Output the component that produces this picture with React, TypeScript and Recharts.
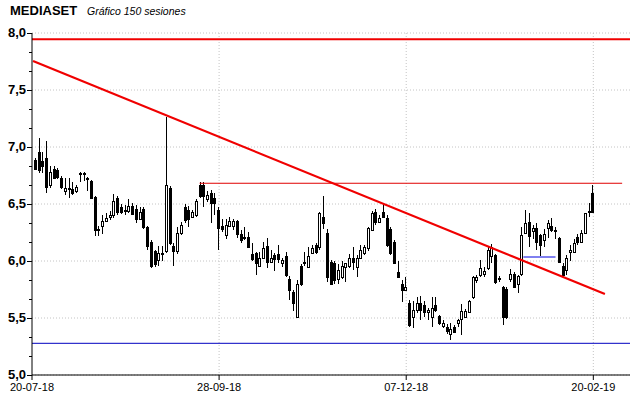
import React from 'react';
import { ComposedChart, Bar, XAxis, YAxis, CartesianGrid, ReferenceLine } from 'recharts';

// 150 sesiones (apertura / maximo / minimo / cierre)
const OPEN = [
  6.89, 6.96, 6.88, 6.90, 6.67, 6.81, 6.80, 6.73, 6.61, 6.64, 6.63, 6.61, 6.76, 6.77, 6.73, 6.70, 6.56, 6.27, 6.31, 6.35,
  6.39, 6.40, 6.55, 6.47, 6.44, 6.44, 6.48, 6.46, 6.37, 6.46, 6.30, 6.17, 6.09, 6.01, 6.06, 6.09, 6.64, 6.13, 6.09, 6.25,
  6.47, 6.45, 6.39, 6.40, 6.67, 6.67, 6.54, 6.60, 6.55, 6.45, 6.31, 6.23, 6.31, 6.31, 6.35, 6.24, 6.21, 6.21, 6.06, 6.07,
  5.96, 6.03, 6.13, 5.99, 6.05, 6.06, 5.98, 6.04, 5.84, 5.73, 5.51, 5.96, 5.99, 5.95, 6.07, 6.14, 6.12, 6.39, 6.25, 5.99,
  5.98, 5.84, 5.86, 5.95, 5.96, 6.03, 5.95, 6.03, 6.07, 6.11, 6.27, 6.43, 6.34, 6.43, 6.38, 6.28, 6.17, 5.90, 5.80, 5.75,
  5.63, 5.51, 5.57, 5.63, 5.61, 5.55, 5.51, 5.61, 5.52, 5.43, 5.42, 5.36, 5.42, 5.46, 5.49, 5.51, 5.55, 5.68, 5.83, 5.88,
  5.89, 5.94, 6.04, 6.05, 5.85, 5.77, 5.75, 5.84, 5.89, 5.80, 5.89, 6.25, 6.34, 6.26, 6.29, 6.23, 6.18, 6.29, 6.31, 6.27,
  6.20, 5.96, 5.92, 6.08, 6.08, 6.21, 6.17, 6.25, 6.43, 6.60,
];
const HIGH = [
  6.90, 7.08, 6.96, 7.05, 6.83, 6.83, 6.82, 6.75, 6.73, 6.73, 6.69, 6.67, 6.78, 6.78, 6.74, 6.71, 6.57, 6.31, 6.40, 6.42,
  6.44, 6.59, 6.57, 6.50, 6.49, 6.54, 6.51, 6.49, 6.47, 6.47, 6.31, 6.18, 6.10, 6.13, 6.13, 7.26, 6.66, 6.16, 6.30, 6.34,
  6.50, 6.48, 6.45, 6.54, 6.69, 6.69, 6.61, 6.62, 6.60, 6.47, 6.37, 6.37, 6.39, 6.37, 6.36, 6.27, 6.30, 6.25, 6.16, 6.08,
  6.08, 6.17, 6.20, 6.10, 6.07, 6.14, 6.03, 6.08, 5.87, 5.75, 5.83, 5.97, 6.08, 6.12, 6.14, 6.16, 6.43, 6.57, 6.28, 6.01,
  6.00, 5.97, 6.00, 5.98, 6.06, 6.12, 6.05, 6.14, 6.14, 6.30, 6.44, 6.46, 6.40, 6.50, 6.40, 6.30, 6.18, 6.00, 5.83, 5.86,
  5.66, 5.65, 5.68, 5.69, 5.65, 5.59, 5.68, 5.68, 5.53, 5.48, 5.45, 5.46, 5.44, 5.49, 5.62, 5.58, 5.66, 5.87, 5.88, 6.01,
  5.95, 6.12, 6.15, 6.06, 5.87, 5.78, 5.77, 5.93, 5.90, 5.88, 6.30, 6.45, 6.42, 6.32, 6.33, 6.24, 6.28, 6.36, 6.38, 6.30,
  6.21, 5.98, 6.05, 6.14, 6.19, 6.24, 6.27, 6.42, 6.51, 6.67,
];
const LOW = [
  6.80, 6.77, 6.77, 6.60, 6.64, 6.72, 6.72, 6.63, 6.58, 6.55, 6.58, 6.60, 6.69, 6.70, 6.61, 6.54, 6.22, 6.22, 6.24, 6.34,
  6.36, 6.38, 6.40, 6.41, 6.40, 6.42, 6.40, 6.33, 6.36, 6.28, 6.10, 5.94, 5.95, 5.96, 6.00, 6.07, 6.14, 5.96, 6.06, 6.23,
  6.33, 6.30, 6.38, 6.39, 6.55, 6.47, 6.52, 6.33, 6.40, 6.10, 6.25, 6.19, 6.30, 6.27, 6.20, 6.16, 6.18, 6.12, 6.00, 5.88,
  5.95, 6.02, 5.94, 5.98, 5.91, 5.98, 5.95, 5.86, 5.66, 5.56, 5.51, 5.78, 5.96, 5.95, 6.06, 6.06, 6.10, 6.28, 5.82, 5.79,
  5.80, 5.80, 5.84, 5.82, 5.94, 5.92, 5.86, 6.02, 6.05, 6.09, 6.26, 6.32, 6.33, 6.38, 6.12, 6.05, 5.97, 5.86, 5.64, 5.74,
  5.42, 5.41, 5.54, 5.48, 5.51, 5.48, 5.42, 5.55, 5.44, 5.41, 5.36, 5.31, 5.37, 5.42, 5.35, 5.50, 5.54, 5.67, 5.81, 5.86,
  5.86, 5.92, 5.98, 5.80, 5.82, 5.44, 5.49, 5.82, 5.76, 5.72, 5.87, 6.24, 6.12, 6.19, 6.10, 6.04, 6.12, 6.20, 6.25, 6.19,
  5.98, 5.86, 5.88, 6.00, 6.07, 6.14, 6.16, 6.24, 6.39, 6.42,
];
const CLOSE = [
  6.81, 6.80, 6.83, 6.65, 6.78, 6.73, 6.74, 6.65, 6.64, 6.63, 6.60, 6.65, 6.77, 6.76, 6.72, 6.55, 6.27, 6.28, 6.35, 6.38,
  6.40, 6.53, 6.43, 6.43, 6.45, 6.48, 6.41, 6.37, 6.43, 6.30, 6.13, 5.96, 5.97, 6.07, 6.07, 6.67, 6.16, 6.09, 6.25, 6.32,
  6.36, 6.37, 6.43, 6.53, 6.57, 6.57, 6.58, 6.51, 6.51, 6.29, 6.28, 6.32, 6.35, 6.35, 6.24, 6.18, 6.20, 6.12, 6.02, 5.98,
  6.03, 6.11, 5.99, 6.03, 6.02, 6.02, 6.01, 5.88, 5.75, 5.63, 5.80, 5.80, 5.99, 6.04, 6.11, 6.08, 6.42, 6.33, 5.86, 5.80,
  5.83, 5.92, 5.96, 5.98, 6.03, 5.99, 6.03, 6.10, 6.12, 6.29, 6.42, 6.34, 6.38, 6.39, 6.14, 6.07, 5.98, 5.86, 5.75, 5.77,
  5.44, 5.57, 5.63, 5.57, 5.55, 5.57, 5.59, 5.57, 5.46, 5.46, 5.39, 5.40, 5.38, 5.48, 5.56, 5.56, 5.65, 5.86, 5.86, 5.94,
  5.91, 6.10, 6.12, 5.82, 5.84, 5.51, 5.51, 5.89, 5.77, 5.87, 6.23, 6.33, 6.22, 6.29, 6.17, 6.14, 6.24, 6.33, 6.27, 6.26,
  5.99, 5.88, 6.03, 6.10, 6.16, 6.17, 6.25, 6.42, 6.44, 6.43,
];

const X_TICKS = [-1, 49, 99, 149];
const X_LABELS = ['20-07-18', '28-09-18', '07-12-18', '20-02-19'];
const Y_LABELS = [5, 5.5, 6, 6.5, 7, 7.5, 8];
const Y_TICKS = Array.from({ length: 19 }, (_, k) => 5 + k / 6);

// lineas dibujadas sobre el grafico
const TOP_LEVEL = 7.945;
const SUPPORT = 5.278;
const TREND = [
  { x: -0.73, y: 7.754 },
  { x: 152.1, y: 5.71 },
];
const RESIST = [
  { x: 43.8, y: 6.682 },
  { x: 156.7, y: 6.682 },
];
const BLUE_SEG = [
  { x: 130.3, y: 6.035 },
  { x: 138.9, y: 6.035 },
];

const data = OPEN.map((o, i) => ({
  i,
  o,
  h: HIGH[i],
  l: LOW[i],
  c: CLOSE[i],
  range: [LOW[i], HIGH[i]],
}));

const FONT = '"Liberation Sans", Arial, sans-serif';

const Candle = (props: any) => {
  const { x, y, width, height, payload } = props;
  if (x == null || y == null) return null;
  const { o, h, l, c } = payload;
  const yTop = Math.min(y, y + height);
  const hh = Math.abs(height);
  const cx = Math.floor(x + width / 2);
  const py = (v: number) => (h === l ? yTop : yTop + ((h - v) / (h - l)) * hh);
  const top = Math.round(py(Math.max(o, c)));
  const bot = Math.round(py(Math.min(o, c)));
  const up = c >= o;
  return (
    <g>
      <line x1={cx + 0.5} x2={cx + 0.5} y1={Math.round(yTop)} y2={Math.round(yTop + hh)} stroke="#000" strokeWidth={1} />
      <rect
        x={cx - 0.5}
        y={top + 0.5}
        width={2}
        height={Math.max(bot - top, 1)}
        fill={up ? '#fff' : '#000'}
        stroke="#000"
        strokeWidth={1}
      />
    </g>
  );
};

const YTick = (props: any) => {
  const { x, y, payload } = props;
  const v = payload.value;
  const major = Math.abs(v * 2 - Math.round(v * 2)) < 1e-6;
  const ry = Math.round(y) + 0.5;
  return (
    <g>
      <line x1={x - (major ? 5 : 3)} x2={x} y1={ry} y2={ry} stroke="#000" />
      {major && (
        <text x={x - 6} y={ry} dy={3} textAnchor="end" fontFamily={FONT} fontWeight="bold" fontSize={13} fill="#000">
          {v.toFixed(1).replace('.', ',')}
        </text>
      )}
    </g>
  );
};

export default function App() {
  return (
    <div style={{ position: 'absolute', left: 0, top: 0, width: 640, height: 398, background: '#fff' }}>
      <svg width={640} height={22} style={{ position: 'absolute', left: 0, top: 0 }}>
        <text x={10} y={15} fontFamily={FONT} fontWeight="bold" fontSize={13} fill="#000">
          MEDIASET
        </text>
        <text x={87} y={15} fontFamily={FONT} fontStyle="italic" fontSize={10.5} fill="#000">
          Gráfico 150 sesiones
        </text>
      </svg>
      <ComposedChart
        width={640}
        height={398}
        data={data}
        margin={{ top: 33, right: 10, left: 0, bottom: 0 }}
      >
        <CartesianGrid
          stroke="#c4c4c4"
          strokeDasharray="1 2"
          horizontalValues={Y_LABELS}
          verticalValues={X_TICKS.slice(1)}
        />
        <XAxis
          type="number"
          dataKey="i"
          domain={[-1, 158.8]}
          allowDataOverflow
          ticks={X_TICKS}
          interval={0}
          tickFormatter={(v: number) => X_LABELS[X_TICKS.indexOf(v)] ?? ''}
          height={23}
          tickSize={5}
          tickMargin={3}
          stroke="#000"
          tick={{ fill: '#000', fontSize: 11, fontFamily: FONT }}
        />
        <YAxis
          type="number"
          domain={[5, 8]}
          allowDataOverflow
          ticks={Y_TICKS}
          interval={0}
          width={32}
          tickSize={0}
          tickMargin={0}
          stroke="#000"
          tick={<YTick />}
        />
        <Bar dataKey="range" barSize={3} isAnimationActive={false} shape={(p: any) => <Candle {...p} />} />
        <ReferenceLine y={TOP_LEVEL} stroke="#f00000" strokeWidth={2} />
        <ReferenceLine y={SUPPORT} stroke="#0000c0" strokeWidth={1} />
        <ReferenceLine segment={RESIST} stroke="#e00000" strokeWidth={1} />
        <ReferenceLine segment={BLUE_SEG} stroke="#0000e0" strokeWidth={1} />
        <ReferenceLine segment={TREND} stroke="#f00000" strokeWidth={2.2} />
      </ComposedChart>
    </div>
  );
}
